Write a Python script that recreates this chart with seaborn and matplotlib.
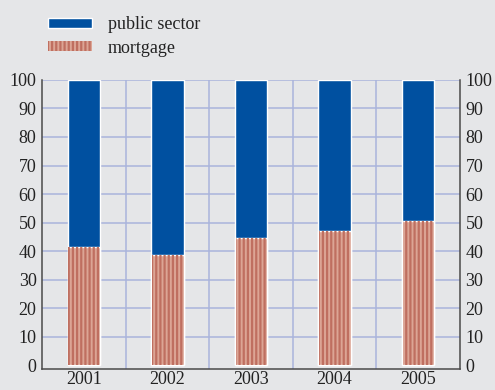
import matplotlib
matplotlib.use("Agg")
import matplotlib.pyplot as plt
import matplotlib.patches as mpatches
import seaborn as sns
import pandas as pd
import numpy as np

years = ["2001", "2002", "2003", "2004", "2005"]
mortgage = [41.5, 38.7, 44.5, 46.9, 50.5]
public_sector = [58.5, 61.3, 55.5, 53.1, 49.5]
yticks = [0, 10, 20, 30, 40, 50, 60, 70, 80, 90, 100]

BG = "#e5e6e8"
BLUE = "#0050a0"
SALMON = "#dca595"
STRIPE = "#bf6f60"
GRID = "#a9b4dc"
SPINE = "#4a4a4a"

sns.set_theme(style="white")
plt.rcParams["font.family"] = ["Liberation Serif", "DejaVu Serif"]
plt.rcParams["hatch.linewidth"] = 1.6

df = pd.DataFrame({
    "year": years,
    "mortgage": mortgage,
    "total": np.array(mortgage) + np.array(public_sector),
})

fig = plt.figure(figsize=(4.95, 3.9), dpi=100)
fig.patch.set_facecolor(BG)
ax = fig.add_axes([0.085, 0.055, 0.844, 0.740])
ax.set_facecolor(BG)

W = 0.39
# public sector on top: full stack height
sns.barplot(data=df, x="year", y="total", color=BLUE, width=W,
            edgecolor="white", linewidth=1.0, saturation=1, ax=ax, zorder=3)
# mortgage base: solid fill, then striped overlay
sns.barplot(data=df, x="year", y="mortgage", color=SALMON, width=W,
            edgecolor="white", linewidth=1.0, saturation=1, ax=ax, zorder=4)
sns.barplot(data=df, x="year", y="mortgage", color=SALMON, width=W - 0.02,
            edgecolor=STRIPE, linewidth=0, hatch="||||", fill=False,
            saturation=1, ax=ax, zorder=5)

ax.set_xlim(-0.5, len(years) - 0.5)
ax.set_ylim(-1.2, 100)
ax.set_xlabel("")
ax.set_ylabel("")

# grid
for y in yticks[1:]:
    ax.axhline(y, color=GRID, lw=1.1, zorder=1)
for b in np.arange(0.5, len(years) - 0.5, 1):
    ax.axvline(b, color=GRID, lw=1.1, zorder=1)

ax.set_yticks(yticks)
ax.set_yticklabels([str(v) for v in yticks])
ax.tick_params(axis="y", which="both", length=0, labelsize=13,
               left=True, right=True, labelleft=True, labelright=True,
               pad=4, labelcolor="#222222")
ax.set_xticks(range(len(years)))
ax.set_xticklabels(years)
ax.set_xticks(np.arange(-0.5, len(years), 1), minor=True)
ax.tick_params(axis="x", which="major", length=0, labelsize=13, pad=2,
               labelcolor="#222222")
ax.tick_params(axis="x", which="minor", length=5, width=1.0, color=SPINE,
               direction="out")

for side in ["left", "right", "bottom"]:
    ax.spines[side].set_visible(True)
    ax.spines[side].set_color(SPINE)
    ax.spines[side].set_linewidth(1.1)
ax.spines["top"].set_visible(False)

handles = [
    mpatches.Patch(facecolor=BLUE, edgecolor="white", linewidth=1.0,
                   label="public sector"),
    mpatches.Patch(facecolor=SALMON, edgecolor=STRIPE, linewidth=0,
                   hatch="||||", label="mortgage"),
]
fig.legend(handles=handles, loc="upper left", bbox_to_anchor=(0.065, 1.0),
           frameon=False, fontsize=13, handlelength=2.4, handleheight=0.45,
           handletextpad=0.9, labelspacing=0.35, labelcolor="#222222")

fig.savefig("out.png", dpi=100, facecolor=BG)
